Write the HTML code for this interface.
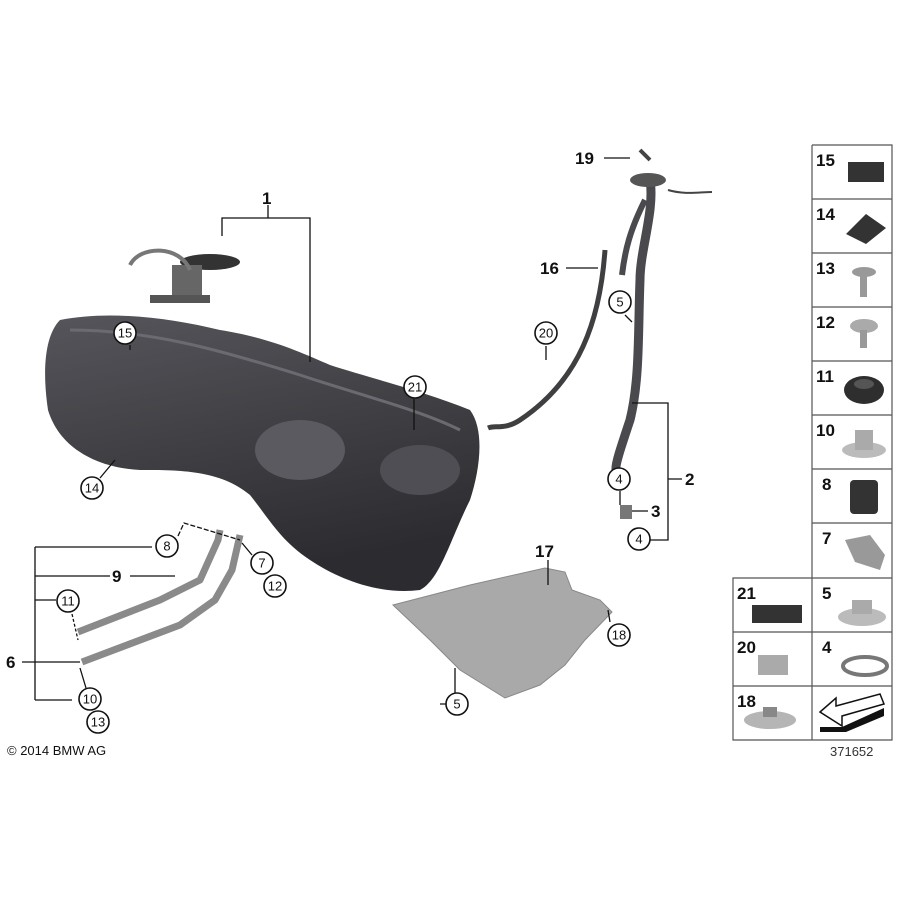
<!DOCTYPE html>
<html><head><style>
body{margin:0;background:#fff;}
svg{display:block;font-family:"Liberation Sans",Arial,sans-serif;}
.c{fill:#fff;stroke:#111;stroke-width:1.6}
.ct{font-size:13px;text-anchor:middle;dominant-baseline:central;fill:#111}
.b{font-size:17px;font-weight:bold;fill:#111}
.l{stroke:#111;stroke-width:1.3;fill:none}
.g{stroke:#555;stroke-width:1.2}
.gt{font-size:17px;font-weight:bold;fill:#111}
</style></head><body>
<svg width="900" height="900" viewBox="0 0 900 900">
<defs>
<linearGradient id="tk" x1="0" y1="0" x2="0.3" y2="1">
<stop offset="0" stop-color="#55555b"/><stop offset="0.5" stop-color="#404045"/><stop offset="1" stop-color="#2c2c30"/></linearGradient>
</defs>
<!-- tank -->
<path d="M60,320 C110,310 170,318 220,330 C270,338 300,352 330,365 C370,378 420,390 470,410 C485,430 480,470 470,500 C450,540 440,580 420,590 C380,595 340,580 310,560 C280,540 270,520 250,495 C220,470 180,470 140,470 C100,468 60,450 48,410 C42,370 45,335 60,320 Z" fill="url(#tk)"/>
<path d="M70,330 C150,330 220,350 300,375 C360,395 420,410 460,430" stroke="#6a6a70" stroke-width="3" fill="none"/>
<ellipse cx="300" cy="450" rx="45" ry="30" fill="#5a5a60"/>
<ellipse cx="420" cy="470" rx="40" ry="25" fill="#4e4e54"/>
<!-- pump -->
<ellipse cx="210" cy="262" rx="30" ry="8" fill="#333"/>
<rect x="172" y="265" width="30" height="35" fill="#666"/>
<path d="M130,265 C140,245 180,245 190,270" stroke="#777" stroke-width="4" fill="none"/>
<rect x="150" y="295" width="60" height="8" fill="#555"/>
<!-- filler pipe -->
<path d="M650,180 C655,210 640,250 640,280 C638,330 640,380 630,420 C620,450 615,465 616,470" stroke="#4a4a4e" stroke-width="9" fill="none"/>
<path d="M645,200 C630,230 625,250 622,275" stroke="#4a4a4e" stroke-width="6" fill="none"/>
<ellipse cx="648" cy="180" rx="18" ry="7" fill="#555"/>
<path d="M668,190 C685,195 700,192 712,192" stroke="#444" stroke-width="2" fill="none"/>
<path d="M640,150 L650,160" stroke="#444" stroke-width="4"/>
<rect x="620" y="505" width="12" height="14" fill="#777"/>
<!-- tube 16 -->
<path d="M605,250 C600,320 580,380 520,420 C505,430 495,425 488,428" stroke="#3f3f42" stroke-width="5" fill="none"/>
<!-- shield 17 -->
<path d="M393,605 L470,585 L545,568 L565,572 L572,590 L600,600 L612,612 L585,640 L565,665 L540,685 L505,698 L460,670 L430,640 Z" fill="#a9a9a9" stroke="#888"/>
<!-- straps -->
<path d="M78,632 L160,600 L200,580 L218,540 L220,530" stroke="#8a8a8a" stroke-width="7" fill="none" stroke-linejoin="round"/>
<path d="M82,662 L180,625 L215,600 L232,570 L240,535" stroke="#8a8a8a" stroke-width="7" fill="none" stroke-linejoin="round"/>
<!-- leader lines -->
<g class="l">
<path d="M222,236 V218 H310 V362"/>
<path d="M268,218 V205"/>
<path d="M632,403 H668 V540 H650 M668,479 H682 M632,511 H648"/>
<path d="M35,547 V700 M35,547 H152 M35,576 H110 M130,576 H175 M35,600 H56 M35,700 H72 M22,662 H80"/>
<path d="M604,158 H630 M566,268 H598 M548,560 V585 M440,704 H455 V668 M414,399 V430 M546,346 V360"/>
<path d="M178,536 L184,523 L240,540" stroke-dasharray="5,2"/>
<path d="M242,543 L252,555"/>
<path d="M72,614 L78,640" stroke-dasharray="3,2"/>
<path d="M80,668 L86,688"/>
<path d="M130,345 V350 M100,478 L115,460 M620,491 V505 M625,315 L632,322 M610,622 L608,610"/>
</g>
<!-- circles -->
<g>
<circle class="c" cx="125" cy="333" r="11"/><text class="ct" x="125" y="333">15</text>
<circle class="c" cx="92" cy="488" r="11"/><text class="ct" x="92" y="488">14</text>
<circle class="c" cx="415" cy="387" r="11"/><text class="ct" x="415" y="387">21</text>
<circle class="c" cx="546" cy="333" r="11"/><text class="ct" x="546" y="333">20</text>
<circle class="c" cx="620" cy="302" r="11"/><text class="ct" x="620" y="302">5</text>
<circle class="c" cx="619" cy="479" r="11"/><text class="ct" x="619" y="479">4</text>
<circle class="c" cx="639" cy="539" r="11"/><text class="ct" x="639" y="539">4</text>
<circle class="c" cx="167" cy="546" r="11"/><text class="ct" x="167" y="546">8</text>
<circle class="c" cx="262" cy="563" r="11"/><text class="ct" x="262" y="563">7</text>
<circle class="c" cx="275" cy="586" r="11"/><text class="ct" x="275" y="586">12</text>
<circle class="c" cx="68" cy="601" r="11"/><text class="ct" x="68" y="601">11</text>
<circle class="c" cx="90" cy="699" r="11"/><text class="ct" x="90" y="699">10</text>
<circle class="c" cx="98" cy="722" r="11"/><text class="ct" x="98" y="722">13</text>
<circle class="c" cx="619" cy="635" r="11"/><text class="ct" x="619" y="635">18</text>
<circle class="c" cx="457" cy="704" r="11"/><text class="ct" x="457" y="704">5</text>
</g>
<g class="b">
<text x="262" y="204">1</text>
<text x="575" y="164">19</text>
<text x="540" y="274">16</text>
<text x="685" y="485">2</text>
<text x="651" y="517">3</text>
<text x="535" y="557">17</text>
<text x="112" y="582">9</text>
<text x="6" y="668">6</text>
</g>
<text x="7" y="755" font-size="13" fill="#111">© 2014 BMW AG</text>
<!-- right panel -->
<g class="g" fill="none">
<path d="M812,145 H892 V740 H733 V578 H892 M812,145 V740"/>
<path d="M812,199 H892 M812,253 H892 M812,307 H892 M812,361 H892 M812,415 H892 M812,469 H892 M812,523 H892 M733,632 H892 M733,686 H892"/>
</g>
<g class="gt">
<text x="816" y="166">15</text><text x="816" y="220">14</text><text x="816" y="274">13</text>
<text x="816" y="328">12</text><text x="816" y="382">11</text><text x="816" y="436">10</text>
<text x="822" y="490">8</text><text x="822" y="544">7</text>
<text x="737" y="599">21</text><text x="822" y="599">5</text>
<text x="737" y="653">20</text><text x="822" y="653">4</text>
<text x="737" y="707">18</text>
</g>
<g>
<rect x="848" y="162" width="36" height="20" fill="#333"/>
<path d="M846,234 L866,214 L886,228 L866,244 Z" fill="#333"/>
<ellipse cx="864" cy="272" rx="12" ry="5" fill="#999"/><rect x="860" y="275" width="7" height="22" fill="#999"/>
<ellipse cx="864" cy="326" rx="14" ry="7" fill="#aaa"/><rect x="860" y="330" width="7" height="18" fill="#999"/>
<ellipse cx="864" cy="390" rx="20" ry="14" fill="#2e2e2e"/><ellipse cx="864" cy="384" rx="10" ry="5" fill="#555"/>
<ellipse cx="864" cy="450" rx="22" ry="8" fill="#bbb"/><rect x="855" y="430" width="18" height="20" fill="#aaa"/>
<rect x="850" y="480" width="28" height="34" rx="4" fill="#333"/>
<path d="M845,540 L870,535 L885,555 L880,570 L855,562 Z" fill="#999"/>
<rect x="752" y="605" width="50" height="18" fill="#333"/>
<ellipse cx="862" cy="617" rx="24" ry="9" fill="#bbb"/><path d="M852,600 h20 v14 h-20 z" fill="#aaa"/>
<path d="M758,655 h30 v20 h-30 z" fill="#aaa"/>
<ellipse cx="865" cy="666" rx="22" ry="9" fill="none" stroke="#777" stroke-width="4"/>
<ellipse cx="770" cy="720" rx="26" ry="9" fill="#b5b5b5"/><rect x="763" y="707" width="14" height="10" fill="#888"/>
<path d="M820,712 L836,698 L836,706 L880,694 L884,704 L842,716 L842,726 Z" fill="#fff" stroke="#111" stroke-width="1.5"/>
<path d="M820,727 L842,727 L884,708 L884,716 L846,732 L820,732 Z" fill="#111"/>
</g>
<text x="830" y="756" font-size="13" fill="#333">371652</text>
</svg>
</body></html>
